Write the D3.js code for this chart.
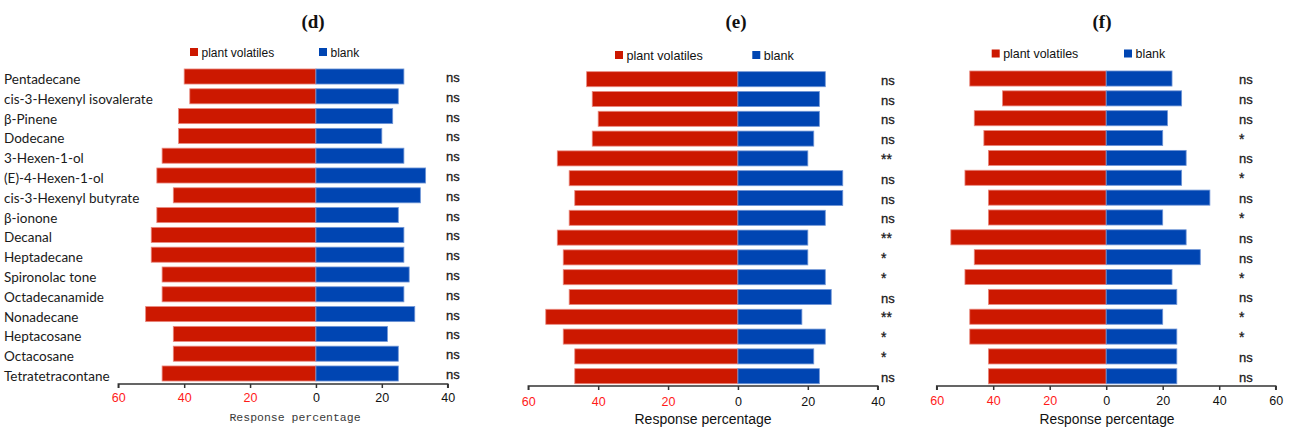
<!DOCTYPE html>
<html>
<head>
<meta charset="utf-8">
<script src="https://cdn.jsdelivr.net/npm/d3@7"></script>
<style>
  html, body { margin: 0; padding: 0; background: #fff; }
  svg { display: block; }
</style>
</head>
<body>
<svg id="chart" width="1290" height="431"></svg>
<script>
const categories = ["Pentadecane", "cis-3-Hexenyl isovalerate", "β-Pinene", "Dodecane", "3-Hexen-1-ol",
  "(E)-4-Hexen-1-ol", "cis-3-Hexenyl butyrate", "β-ionone", "Decanal", "Heptadecane", "Spironolac tone",
  "Octadecanamide", "Nonadecane", "Heptacosane", "Octacosane", "Tetratetracontane"];
const seriesNames = ["plant volatiles", "blank"];

const dPlant = [40, 38.3, 41.7, 41.7, 46.7, 48.3, 43.3, 48.3, 50, 50, 46.7, 46.7, 51.7, 43.3, 43.3, 46.7];
const dBlank = [26.7, 25, 23.3, 20, 26.7, 33.3, 31.7, 25, 26.7, 26.7, 28.3, 26.7, 30, 21.7, 25, 25];
const dSig = ["ns","ns","ns","ns","ns","ns","ns","ns","ns","ns","ns","ns","ns","ns","ns","ns"];

const ePlant = [43.3, 41.7, 40, 41.7, 51.7, 48.3, 46.7, 48.3, 51.7, 50, 50, 48.3, 55, 50, 46.7, 46.7];
const eBlank = [25, 23.3, 23.3, 21.7, 20, 30, 30, 25, 20, 20, 25, 26.7, 18.3, 25, 21.7, 23.3];
const eSig = ["ns","ns","ns","ns","**","ns","ns","ns","**","*","*","ns","**","*","*","ns"];

const fPlant = [48.3, 36.7, 46.7, 43.3, 41.7, 50, 41.7, 41.7, 55, 46.7, 50, 41.7, 48.3, 48.3, 41.7, 41.7];
const fBlank = [23.3, 26.7, 21.7, 20, 28.3, 26.7, 36.7, 20, 28.3, 33.3, 23.3, 25, 20, 25, 25, 25];
const fSig = ["ns","ns","ns","*","ns","*","ns","*","ns","ns","*","ns","*","*","ns","ns"];

const dTicks = [-60, -40, -20, 0, 20, 40];
const eTicks = [-60, -40, -20, 0, 20, 40];
const fTicks = [-60, -40, -20, 0, 20, 40, 60];

const panelTitles = ["(d)", "(e)", "(f)"];
const axisTitle = "Response percentage";

const RED = "#cc1800", BLUE = "#0045b2";
const svg = d3.select("#chart");

const panels = [
  { title: panelTitles[0], plant: dPlant, blank: dBlank, sig: dSig, ticks: dTicks,
    x0: 118.3, x1: 447.7, y0: 66.6, y1: 383.4, axisY: 384, tickLabY: 402,
    titleX: 313, legY: 48, legRed: 190, legBlue: 319, legFont: 12,
    sigX: 446, axTitleX: 295, axTitleY: 421, axTitleFont: "'Liberation Mono', 'DejaVu Sans Mono', monospace",
    axTitleSize: 11.5, axTitleColor: "#3a3a3a", labels: true },
  { title: panelTitles[1], plant: ePlant, blank: eBlank, sig: eSig, ticks: eTicks,
    x0: 528.3, x1: 877.7, y0: 69.3, y1: 386.1, axisY: 386, tickLabY: 406,
    titleX: 736, legY: 51, legRed: 615, legBlue: 752.3, legFont: 12.6,
    sigX: 881, axTitleX: 703, axTitleY: 424, axTitleFont: "'Liberation Sans', Arial, sans-serif",
    axTitleSize: 14, axTitleColor: "#111", labels: false },
  { title: panelTitles[2], plant: fPlant, blank: fBlank, sig: fSig, ticks: fTicks,
    x0: 936.7, x1: 1275.7, y0: 68.6, y1: 386.2, axisY: 386, tickLabY: 405,
    titleX: 1102, legY: 49.5, legRed: 991.7, legBlue: 1124, legFont: 12.4,
    sigX: 1239, axTitleX: 1107, axTitleY: 424, axTitleFont: "'Liberation Sans', Arial, sans-serif",
    axTitleSize: 13.8, axTitleColor: "#111", labels: false }
];

panels.forEach(p => {
  const ticks = p.ticks;
  const x = d3.scaleLinear().domain([ticks[0], ticks[ticks.length - 1]]).range([p.x0, p.x1]);
  const y = d3.scaleBand().domain(categories).range([p.y0, p.y1]).paddingInner(0.24).paddingOuter(0.12);
  const g = svg.append("g");

  const rows = categories.map((c, i) => ({ c, plant: p.plant[i], blank: p.blank[i], sig: p.sig[i] }));

  // bars
  g.selectAll("rect.plant").data(rows).join("rect")
    .attr("x", d => x(-d.plant)).attr("width", d => x(0) - x(-d.plant))
    .attr("y", d => y(d.c)).attr("height", y.bandwidth())
    .attr("fill", RED).attr("stroke", "#e9897f").attr("stroke-width", 0.8);
  g.selectAll("rect.blank").data(rows).join("rect")
    .attr("x", x(0)).attr("width", d => x(d.blank) - x(0))
    .attr("y", d => y(d.c)).attr("height", y.bandwidth())
    .attr("fill", BLUE).attr("stroke", "#6f95d6").attr("stroke-width", 0.8);

  // significance
  g.selectAll("text.sig").data(rows).join("text")
    .attr("x", p.sigX).attr("y", d => y(d.c) + y.bandwidth() / 2 + 5.5)
    .attr("font-family", "'Liberation Sans', Arial, sans-serif")
    .attr("font-size", d => d.sig === "ns" ? 13 : 14)
    .attr("stroke", "#1a1a1a").attr("stroke-width", 0.3)
    .attr("fill", "#1a1a1a")
    .text(d => d.sig);

  // category labels
  if (p.labels) {
    const lab = g.selectAll("text.cat").data(rows).join("text")
      .attr("class", "cat")
      .attr("x", 4).attr("y", d => y(d.c) + y.bandwidth() / 2 + 7.5)
      .attr("font-family", "Lato, 'Open Sans', sans-serif")
      .attr("font-size", 14).attr("fill", "#1a1a1a")
      .text(d => d.c);
    let maxW = 0;
    lab.each(function () { maxW = Math.max(maxW, this.getComputedTextLength()); });
    if (maxW > 0) lab.attr("font-size", 14 * 149 / maxW);
  }

  // axis
  const axis = d3.axisBottom(x).tickValues(ticks).tickSize(4).tickFormat(d => Math.abs(d));
  const ag = g.append("g").attr("transform", `translate(0,${p.axisY})`).call(axis);
  ag.select(".domain").attr("stroke", "#333").attr("stroke-width", 1.5)
    .attr("d", `M${p.x0},4V0H${p.x1}V4`);
  ag.selectAll(".tick line").attr("stroke", "#333").attr("stroke-width", 1.5);
  ag.selectAll(".tick text")
    .attr("y", p.tickLabY - p.axisY).attr("dy", 0)
    .attr("font-family", "'Liberation Sans', Arial, sans-serif")
    .attr("font-size", 12.5)
    .attr("fill", d => d < 0 ? "#ff1a1a" : "#111");

  // axis title
  g.append("text").attr("x", p.axTitleX).attr("y", p.axTitleY)
    .attr("text-anchor", "middle").attr("font-family", p.axTitleFont)
    .attr("font-size", p.axTitleSize).attr("fill", p.axTitleColor)
    .text(axisTitle);

  // panel title
  g.append("text").attr("x", p.titleX).attr("y", 28)
    .attr("text-anchor", "middle")
    .attr("font-family", "'Liberation Serif', 'Times New Roman', serif")
    .attr("font-weight", "bold").attr("font-size", 19).attr("fill", "#111")
    .text(p.title);

  // legend
  const leg = [{ n: seriesNames[0], c: RED, x: p.legRed }, { n: seriesNames[1], c: BLUE, x: p.legBlue }];
  leg.forEach(l => {
    g.append("rect").attr("x", l.x).attr("y", p.legY).attr("width", 8).attr("height", 8).attr("fill", l.c);
    g.append("text").attr("x", l.x + 11.5).attr("y", p.legY + 8.5)
      .attr("font-family", "'Liberation Sans', Arial, sans-serif")
      .attr("font-size", p.legFont).attr("fill", "#111").text(l.n);
  });
});
</script>
</body>
</html>
